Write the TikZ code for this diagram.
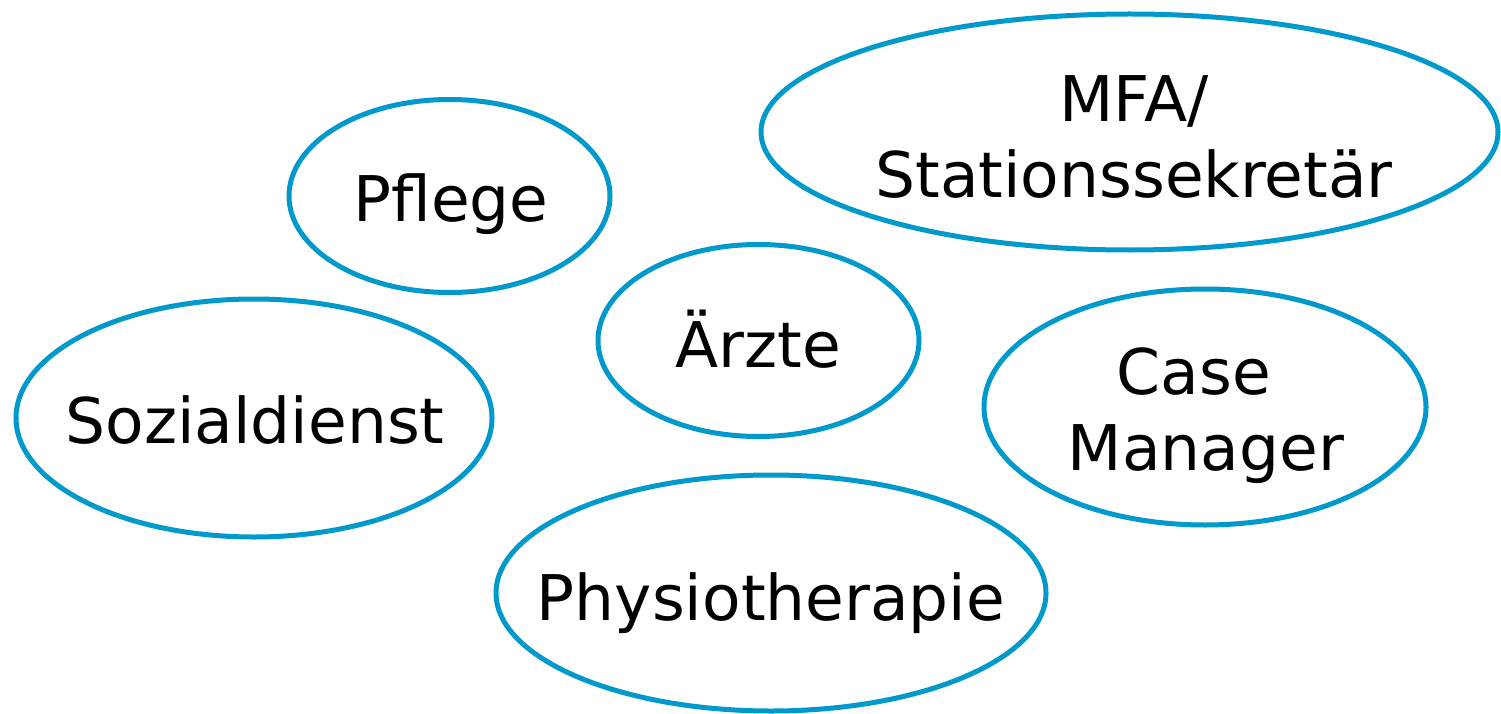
\documentclass[tikz,border=0pt]{standalone}
\usepackage{fontspec}
\setmainfont{DejaVu Sans}
\usetikzlibrary{shapes.geometric}
\definecolor{ringblue}{HTML}{0099CC}
\begin{document}
\begin{tikzpicture}[x=1pt,y=-1pt,
  ring/.style={ellipse,draw=ringblue,line width=5pt,inner sep=0pt},
  lbl/.style={anchor=base,inner sep=0pt,align=center,
    font=\fontsize{63}{76}\selectfont,text=black}]
\useasboundingbox (0,0) rectangle (1501,714);
% ellipses
\node[ring,minimum width=321pt,minimum height=193pt] (pflege) at (449.5,196) {};
\node[ring,minimum width=737pt,minimum height=236pt] (mfa) at (1129.5,132) {};
\node[ring,minimum width=321pt,minimum height=192pt] (aerzte) at (758.5,340.5) {};
\node[ring,minimum width=476pt,minimum height=238pt] (sozial) at (254,418) {};
\node[ring,minimum width=442pt,minimum height=236pt] (case) at (1205,407) {};
\node[ring,minimum width=550pt,minimum height=236pt] (physio) at (771,593) {};
% labels
\node[lbl] (pflegetxt) at (451,222) {Pflege};
\node[lbl] (mfatxt) at (1134,197) {MFA/\\Stationssekretär};
\node[lbl] (aerztetxt) at (758,367) {Ärzte};
\node[lbl] (sozialtxt) at (255,443) {Sozialdienst};
\node[lbl] (casetxt) at (1206,470) {Case\hspace*{0.38em}\\Manager};
\node[lbl] (physiotxt) at (771,620) {Physiotherapie};
\end{tikzpicture}
\end{document}
